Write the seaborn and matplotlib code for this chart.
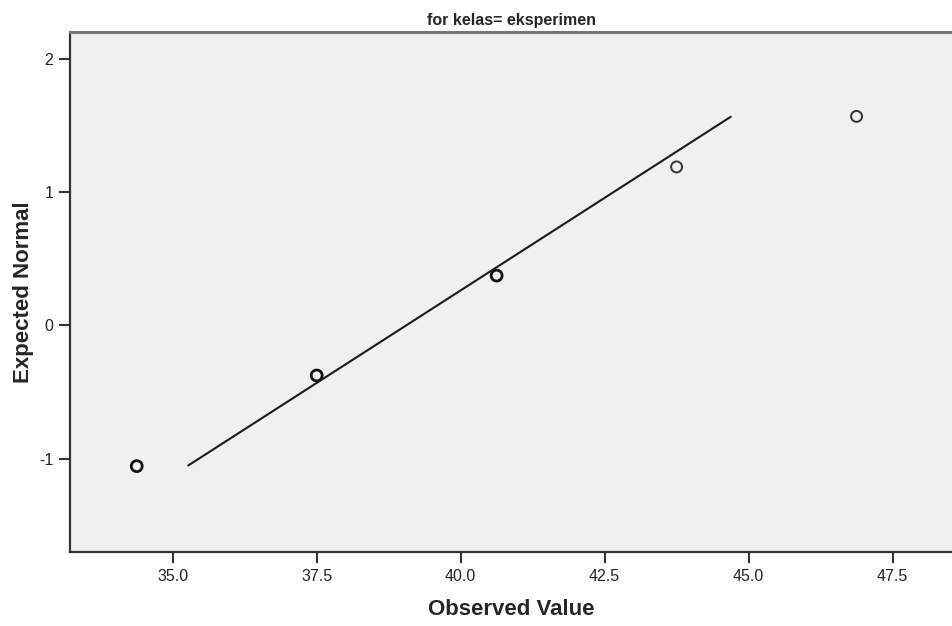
import matplotlib
matplotlib.use("Agg")
import matplotlib.pyplot as plt
import seaborn as sns
import pandas as pd

# Data
observed = [34.375, 37.5, 40.625, 43.75, 46.875]
expected = [-1.056, -0.376, 0.373, 1.188, 1.567]
tied = [True, True, True, False, False]
line_x = [35.27, 44.69]
line_y = [-1.051, 1.564]
x_ticks = [35.0, 37.5, 40.0, 42.5, 45.0, 47.5]
y_ticks = [-1, 0, 1, 2]
title = "for kelas= eksperimen"
x_label = "Observed Value"
y_label = "Expected Normal"

sns.set_style("white", {"axes.facecolor": "#F0F0F0"})
plt.rcParams["font.family"] = ["Liberation Sans Narrow", "Liberation Sans", "DejaVu Sans"]

fig = plt.figure(figsize=(9.53, 6.26), dpi=100)
ax = fig.add_axes([70 / 953, 74 / 626, 1 - 70 / 953, (552 - 32) / 626])

df = pd.DataFrame({"obs": observed, "exp": expected, "tied": tied})
ln = pd.DataFrame({"x": line_x, "y": line_y})

sns.lineplot(data=ln, x="x", y="y", ax=ax, color="#1a1a1a", linewidth=1.5)
sns.scatterplot(data=df[df.tied], x="obs", y="exp", ax=ax, s=62, marker="o",
                facecolor="none", edgecolor="#111111", linewidth=2.0)
sns.scatterplot(data=df[~df.tied], x="obs", y="exp", ax=ax, s=62, marker="o",
                facecolor="none", edgecolor="#333333", linewidth=1.4)

ax.set_xlim(33.216, 48.55)
ax.set_ylim(-1.70, 2.20)
ax.set_xticks(x_ticks)
ax.set_xticklabels([f"{v:.1f}" for v in x_ticks])
ax.set_yticks(y_ticks)
ax.set_yticklabels([str(v) for v in y_ticks])
ax.tick_params(axis="both", which="major", bottom=True, left=True, direction="out",
               length=8, width=1.5, color="#333333",
               labelsize=11.5, labelcolor="#222222", pad=4)

for side in ["left", "bottom"]:
    ax.spines[side].set_color("#333333")
    ax.spines[side].set_linewidth(1.6)
ax.spines["top"].set_color("#777777")
ax.spines["top"].set_linewidth(2.2)
ax.spines["right"].set_visible(False)

ax.set_xlabel(x_label, fontsize=16, fontweight="bold", family=["Liberation Sans", "DejaVu Sans"], labelpad=11)
ax.set_ylabel(y_label, fontsize=16, fontweight="bold", family=["Liberation Sans", "DejaVu Sans"], labelpad=4)
ax.set_title(title, fontsize=11.5, fontweight="bold", pad=5)

fig.savefig("out.png", dpi=100)
